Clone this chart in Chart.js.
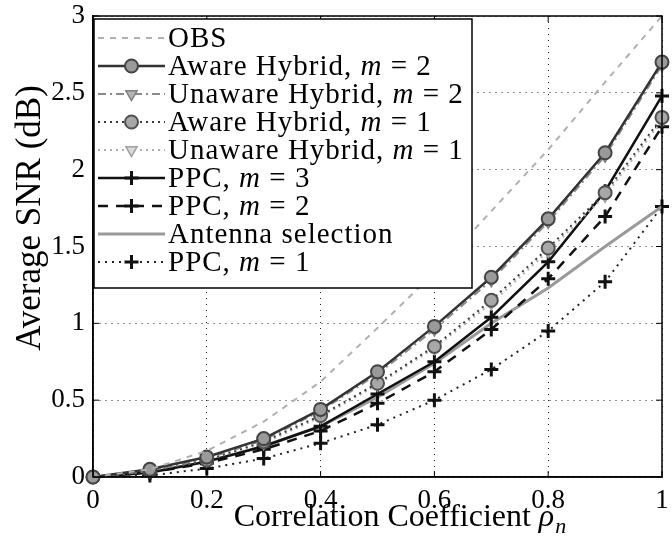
<!DOCTYPE html>
<html>
<head>
<meta charset="utf-8">
<script src="https://cdn.jsdelivr.net/npm/chart.js@4"></script>
<style>
html,body{margin:0;padding:0;background:#fff;overflow:hidden;}
#wrap{position:relative;width:672px;height:538px;}
</style>
</head>
<body>
<div id="wrap"><canvas id="c" width="672" height="538"></canvas></div>
<script>
// ---- data ----
const rho = [0, 0.1, 0.2, 0.3, 0.4, 0.5, 0.6, 0.7, 0.8, 0.9, 1.0];
const obs       = [0, 0.05, 0.17, 0.36, 0.62, 0.97, 1.33, 1.73, 2.13, 2.57, 3.00];
const awareM2   = [0, 0.05, 0.13, 0.25, 0.44, 0.685, 0.98, 1.30, 1.68, 2.11, 2.70];
const unawareM2 = [0, 0.04, 0.12, 0.24, 0.43, 0.67, 0.96, 1.28, 1.66, 2.09, 2.68];
const awareM1   = [0, 0.04, 0.11, 0.23, 0.40, 0.61, 0.85, 1.15, 1.49, 1.85, 2.34];
const unawareM1 = [0, 0.04, 0.11, 0.22, 0.39, 0.60, 0.84, 1.13, 1.47, 1.83, 2.32];
const ppcM3     = [0, 0.03, 0.10, 0.20, 0.33, 0.54, 0.75, 1.04, 1.40, 1.86, 2.48];
const ppcM2     = [0, 0.03, 0.09, 0.18, 0.30, 0.48, 0.685, 0.96, 1.29, 1.695, 2.28];
const antenna   = [0, 0.03, 0.10, 0.20, 0.33, 0.52, 0.74, 1.00, 1.23, 1.50, 1.76];
const ppcM1     = [0, 0.01, 0.055, 0.12, 0.22, 0.34, 0.50, 0.70, 0.95, 1.27, 1.76];
const xTicks = [0, 0.2, 0.4, 0.6, 0.8, 1];
const yTicks = [0, 0.5, 1, 1.5, 2, 2.5, 3];
const seriesNames = [
  ['OBS'],
  ['Aware Hybrid, ', 'm', ' = 2'],
  ['Unaware Hybrid, ', 'm', ' = 2'],
  ['Aware Hybrid, ', 'm', ' = 1'],
  ['Unaware Hybrid, ', 'm', ' = 1'],
  ['PPC, ', 'm', ' = 3'],
  ['PPC, ', 'm', ' = 2'],
  ['Antenna selection'],
  ['PPC, ', 'm', ' = 1']
];
const xTitle = 'Correlation Coefficient ';
const yTitle = 'Average SNR (dB)';

const pts = arr => arr.map((v, i) => ({x: rho[i], y: v}));
const SERIF = '"Liberation Serif", "Times New Roman", "DejaVu Serif", serif';

function ds(label, arr, st) {
  return Object.assign({
    label: label, data: pts(arr), fill: false, tension: 0, clip: false,
    pointRadius: 0, pointBorderWidth: 1.5, borderWidth: 2
  }, st);
}
const datasets = [
  ds('OBS', obs, {borderColor: '#b0b0b0', borderDash: [6, 6], borderWidth: 2}),
  ds('Aware Hybrid, m = 2', awareM2, {borderColor: '#333', borderWidth: 2.5, pointStyle: 'circle', pointRadius: 6.5, pointBackgroundColor: '#9a9a9a', pointBorderColor: '#444', pointBorderWidth: 2}),
  ds('Unaware Hybrid, m = 2', unawareM2, {borderColor: '#8a8a8a', borderDash: [8, 4, 2, 4], borderWidth: 2, pointStyle: 'triangle', pointRotation: 180, pointRadius: 6.5, pointBackgroundColor: '#b5b5b5', pointBorderColor: '#808080'}),
  ds('Aware Hybrid, m = 1', awareM1, {borderColor: '#3a3a3a', borderDash: [2, 4], borderWidth: 2, pointStyle: 'circle', pointRadius: 6.5, pointBackgroundColor: '#a8a8a8', pointBorderColor: '#505050', pointBorderWidth: 2}),
  ds('Unaware Hybrid, m = 1', unawareM1, {borderColor: '#b0b0b0', borderDash: [2, 4], borderWidth: 2, pointStyle: 'triangle', pointRotation: 180, pointRadius: 6.5, pointBackgroundColor: '#d8d8d8', pointBorderColor: '#a0a0a0'}),
  ds('PPC, m = 3', ppcM3, {borderColor: '#111', borderWidth: 2.5, pointStyle: 'cross', pointRadius: 7, pointBorderColor: '#111', pointBorderWidth: 3}),
  ds('PPC, m = 2', ppcM2, {borderColor: '#111', borderDash: [10, 8], borderWidth: 2.5, pointStyle: 'cross', pointRadius: 7, pointBorderColor: '#111', pointBorderWidth: 3}),
  ds('Antenna selection', antenna, {borderColor: '#9a9a9a', borderWidth: 3}),
  ds('PPC, m = 1', ppcM1, {borderColor: '#222', borderDash: [2, 5], borderWidth: 2, pointStyle: 'cross', pointRadius: 7, pointBorderColor: '#111', pointBorderWidth: 3})
];

function drawMarker(ctx, d, x, y) {
  if (!d.pointRadius) return;
  ctx.save();
  ctx.setLineDash([]);
  ctx.fillStyle = d.pointBackgroundColor || d.borderColor;
  ctx.strokeStyle = d.pointBorderColor || d.borderColor;
  ctx.lineWidth = d.pointBorderWidth || 1;
  Chart.helpers.drawPoint(ctx, {pointStyle: d.pointStyle, radius: d.pointRadius, rotation: d.pointRotation || 0, borderWidth: d.pointBorderWidth || 1}, x, y);
  ctx.restore();
}

const decor = {
  id: 'decor',
  afterDraw(chart) {
    const ctx = chart.ctx, a = chart.chartArea;
    const xs = chart.scales.x, ys = chart.scales.y;
    ctx.save();
    ctx.strokeStyle = '#000'; ctx.lineWidth = 1.5; ctx.setLineDash([]);
    ctx.strokeRect(a.left, a.top, a.right - a.left, a.bottom - a.top);
    ctx.lineWidth = 1;
    xTicks.forEach(v => {
      const px = xs.getPixelForValue(v);
      ctx.beginPath(); ctx.moveTo(px, a.bottom); ctx.lineTo(px, a.bottom - 6);
      ctx.moveTo(px, a.top); ctx.lineTo(px, a.top + 6); ctx.stroke();
    });
    yTicks.forEach(v => {
      const py = ys.getPixelForValue(v);
      ctx.beginPath(); ctx.moveTo(a.left, py); ctx.lineTo(a.left + 6, py);
      ctx.moveTo(a.right, py); ctx.lineTo(a.right - 6, py); ctx.stroke();
    });
    // legend
    const lx = 94, ly = 19, lw = 378, lh = 269;
    ctx.fillStyle = '#fff';
    ctx.fillRect(lx, ly, lw, lh);
    ctx.strokeStyle = '#000'; ctx.lineWidth = 1.5;
    ctx.strokeRect(lx, ly, lw, lh);
    chart.data.datasets.forEach((d, i) => {
      const y = 38 + 28 * i;
      ctx.save();
      ctx.strokeStyle = d.borderColor; ctx.lineWidth = d.borderWidth;
      ctx.setLineDash(d.borderDash || []);
      ctx.beginPath(); ctx.moveTo(98, y); ctx.lineTo(165, y); ctx.stroke();
      ctx.restore();
      drawMarker(ctx, d, 131.5, y);
      let tx = 168;
      ctx.save();
      ctx.fillStyle = '#000'; ctx.textBaseline = 'middle'; ctx.textAlign = 'left';
      if ('letterSpacing' in ctx) ctx.letterSpacing = '1px';
      seriesNames[i].forEach((seg, k) => {
        ctx.font = (k === 1 ? 'italic ' : '') + '29px ' + SERIF;
        ctx.fillText(seg, tx, y + 1);
        tx += ctx.measureText(seg).width;
      });
      ctx.restore();
    });
    // y title
    ctx.save();
    ctx.translate(31, 218); ctx.rotate(-Math.PI / 2);
    ctx.font = '35px ' + SERIF; ctx.fillStyle = '#000';
    ctx.textAlign = 'center'; ctx.textBaseline = 'middle';
    ctx.fillText(yTitle, 0, 0);
    ctx.restore();
    // x title
    ctx.font = '32px ' + SERIF;
    const w1 = ctx.measureText(xTitle).width;
    ctx.font = 'italic 32px ' + SERIF;
    const w2 = ctx.measureText('ρ').width;
    ctx.font = 'italic 22px ' + SERIF;
    const w3 = ctx.measureText('n').width;
    let sx = 400 - (w1 + w2 + w3 + 1) / 2;
    const by = 526;
    ctx.fillStyle = '#000'; ctx.textBaseline = 'alphabetic'; ctx.textAlign = 'left';
    ctx.font = '32px ' + SERIF; ctx.fillText(xTitle, sx, by); sx += w1;
    ctx.font = 'italic 32px ' + SERIF; ctx.fillText('ρ', sx, by); sx += w2 + 1;
    ctx.font = 'italic 22px ' + SERIF; ctx.fillText('n', sx, by + 7);
    ctx.restore();
  }
};

function build() {
  new Chart(document.getElementById('c'), {
    type: 'line',
    data: {datasets: datasets},
    plugins: [decor],
    options: {
      responsive: false, animation: false, devicePixelRatio: 1,
      layout: {padding: {top: 16, right: 3, left: 0, bottom: 0}},
      plugins: {legend: {display: false}, tooltip: {enabled: false}},
      scales: {
        x: {
          type: 'linear', min: 0, max: 1,
          afterFit: s => { s.height = 61; s.paddingLeft = 0; s.paddingRight = 0; },
          afterBuildTicks: s => { s.ticks = xTicks.map(v => ({value: v})); },
          ticks: {font: {family: SERIF, size: 27}, color: '#000', padding: 8, maxRotation: 0,
                  callback: v => String(v)},
          grid: {color: '#222', lineWidth: 1, drawTicks: false},
          border: {display: true, color: '#000', width: 1.5, dash: [1, 5]}
        },
        y: {
          type: 'linear', min: 0, max: 3,
          afterFit: s => { s.width = 93; s.paddingTop = 0; s.paddingBottom = 0; },
          afterBuildTicks: s => { s.ticks = yTicks.map(v => ({value: v})); },
          ticks: {font: {family: SERIF, size: 27}, color: '#000', padding: 8,
                  callback: v => String(v)},
          grid: {color: '#222', lineWidth: 1, drawTicks: false},
          border: {display: true, color: '#000', width: 1.5, dash: [1, 5]}
        }
      }
    }
  });
}
const fontLoads = ['28px "Liberation Serif"', 'italic 28px "Liberation Serif"'].map(f => document.fonts.load(f).catch(() => null));
Promise.race([Promise.all(fontLoads), new Promise(r => setTimeout(r, 800))]).then(build);
</script>
</body>
</html>
